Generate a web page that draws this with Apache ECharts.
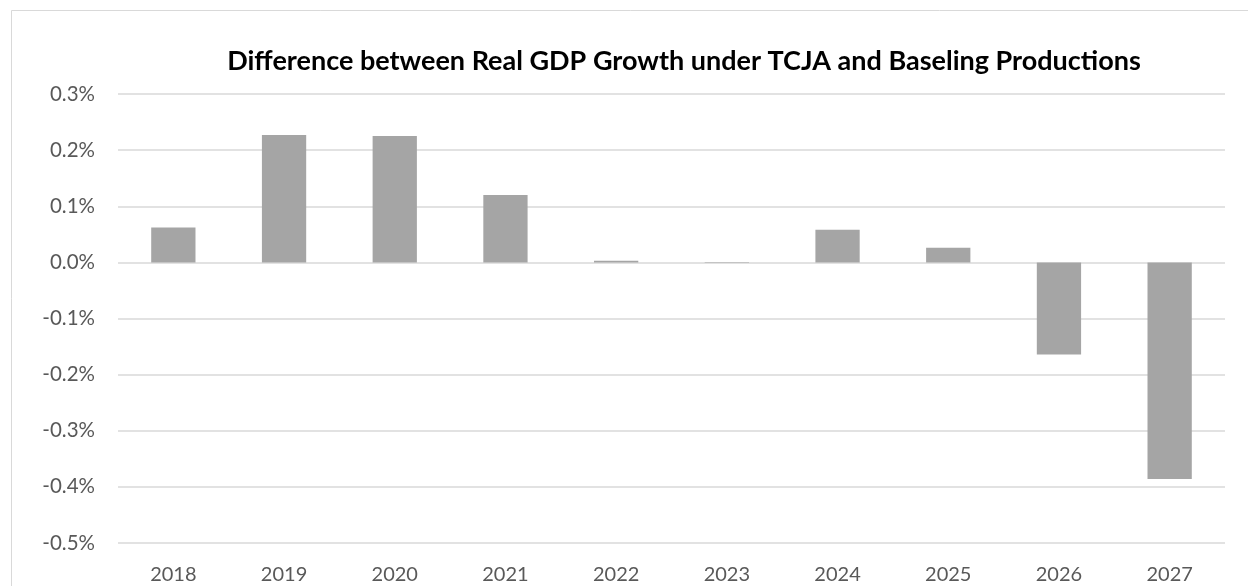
<!DOCTYPE html>
<html>
<head>
<meta charset="utf-8">
<script src="https://cdn.jsdelivr.net/npm/echarts@6/dist/echarts.min.js"></script>
<style>
  html, body { margin: 0; padding: 0; background: #fff; }
  #chart { width: 1248px; height: 586px; }
</style>
</head>
<body>
<div id="chart"></div>
<script>
// categories and values (percent points)
var years = ['2018', '2019', '2020', '2021', '2022', '2023', '2024', '2025', '2026', '2027'];
var gdpDiff = [0.062, 0.227, 0.225, 0.120, 0.003, 0.0005, 0.058, 0.026, -0.164, -0.386];
var yMin = -0.5, yMax = 0.3, yStep = 0.1;

var myChart = echarts.init(document.getElementById('chart'));
var option = {
  backgroundColor: '#fff',
  animation: false,
  title: {
    text: 'Difference between Real GDP Growth under TCJA and Baseling Productions',
    left: 679,
    textAlign: 'center',
    top: 43,
    textStyle: { fontFamily: 'Lato', fontWeight: 'bold', fontSize: 27, color: '#000' }
  },
  graphic: [{
    type: 'rect',
    shape: { x: 11.5, y: 10.5, width: 1300, height: 700 },
    style: { fill: 'none', stroke: '#d9d9d9', lineWidth: 1 },
    silent: true
  }],
  grid: { left: 118, right: 23, top: 94, bottom: 43, containLabel: false },
  xAxis: {
    type: 'category',
    data: years,
    position: 'bottom',
    axisLine: { show: false },
    axisTick: { show: false },
    axisLabel: {
      margin: 22,
      fontFamily: 'Lato',
      fontSize: 20,
      color: '#595959'
    }
  },
  yAxis: {
    type: 'value',
    min: yMin,
    max: yMax,
    interval: yStep,
    axisLine: { show: false },
    axisTick: { show: false },
    splitLine: { lineStyle: { color: '#d9d9d9', width: 1.5 } },
    axisLabel: {
      margin: 23,
      fontFamily: 'Lato',
      fontSize: 20.5,
      color: '#595959',
      formatter: function (v) { return (Math.round(v * 10) / 10).toFixed(1) + '%'; }
    }
  },
  series: [{
    type: 'bar',
    data: gdpDiff,
    barWidth: '40%',
    itemStyle: { color: '#a5a5a5' }
  }]
};
myChart.setOption(option);
</script>
</body>
</html>
